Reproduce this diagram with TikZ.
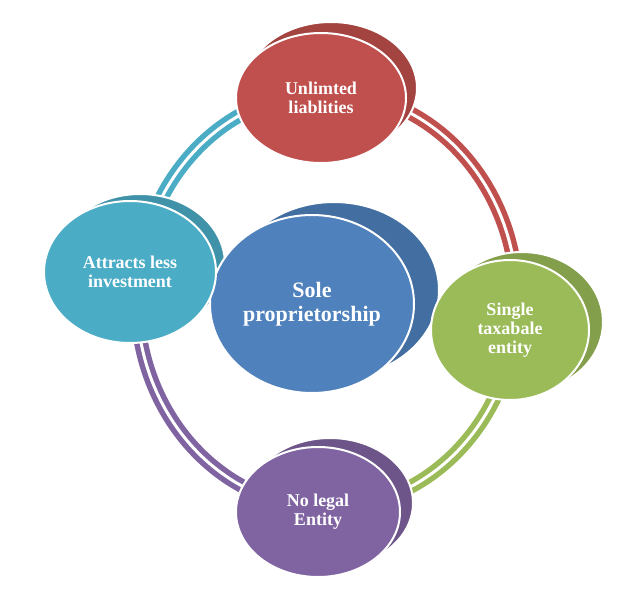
\documentclass[tikz,border=0pt]{standalone}
\usepackage{fontspec}
\setmainfont{Liberation Serif}
\usetikzlibrary{shapes.geometric}
\definecolor{cred}{HTML}{C0504D}
\definecolor{cgreen}{HTML}{9BBB59}
\definecolor{cpurple}{HTML}{8064A2}
\definecolor{cteal}{HTML}{4BACC6}
\definecolor{cblue}{HTML}{4F81BD}
\begin{document}
\begin{tikzpicture}[x=1pt,y=-1pt,
 bub/.style={ellipse,draw=white,line width=2pt,text=white,align=center,font=\fontsize{18}{19}\selectfont\bfseries,inner sep=0pt},
 arcb/.style={line width=14pt},
 gap/.style={white,line width=3pt}]
\useasboundingbox (0,0) rectangle (641,603);
% ring arcs
\foreach \a/\b/\c in {95/180/cteal,0/90/cred,-90/0/cgreen,180/270/cpurple}{
 \draw[arcb,\c] plot[domain=\a:\b,samples=60] ({327+190*cos(\x)},{300-208*sin(\x)});
 \draw[gap] plot[domain=\a:\b,samples=60] ({327+190*cos(\x)},{300-208*sin(\x)});
}
% shadows
\node[bub,fill=cred!85!black,minimum width=172,minimum height=132] (ts) at (331,88) {};
\node[bub,fill=cgreen!85!black,minimum width=162,minimum height=140] (rs) at (522,322) {};
\node[bub,fill=cpurple!85!black,minimum width=166,minimum height=130] (bs) at (330,503) {};
\node[bub,fill=cteal!85!black,minimum width=170,minimum height=140] (ls) at (140,264) {};
\node[bub,fill=cblue!85!black,minimum width=210,minimum height=176] (cs) at (334,290) {};
% main nodes
\node[bub,fill=cblue,minimum width=204,minimum height=178,font=\fontsize{22}{24}\selectfont\bfseries] (c) at (312,304) {Sole\\proprietorship};
\node[bub,fill=cred,minimum width=170,minimum height=130] (t) at (321,98) {Unlimted\\liablities};
\node[bub,fill=cgreen,minimum width=158,minimum height=140] (r) at (510,330) {Single\\taxabale\\entity};
\node[bub,fill=cpurple,minimum width=164,minimum height=130] (b) at (318,512) {No legal\\Entity};
\node[bub,fill=cteal,minimum width=172,minimum height=142] (l) at (130,272) {Attracts less\\investment};
\end{tikzpicture}
\end{document}
